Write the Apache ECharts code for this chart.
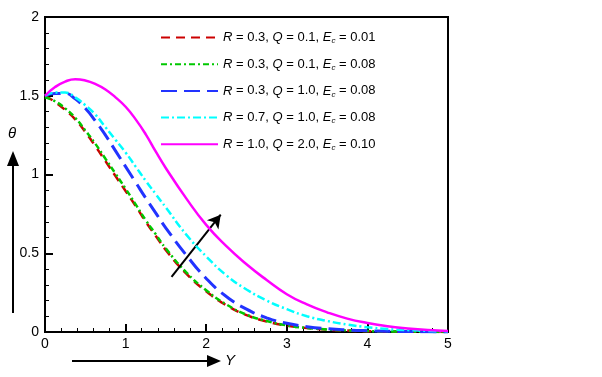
<!DOCTYPE html>
<html>
<head>
<meta charset="utf-8">
<script src="https://cdn.jsdelivr.net/npm/echarts@6/dist/echarts.min.js"></script>
<style>
  html, body { margin: 0; padding: 0; background: #fff; }
  #chart { width: 602px; height: 377px; }
</style>
</head>
<body>
<div id="chart"></div>
<script>
// 横坐标 Y
var yPos = [0, 0.125, 0.25, 0.375, 0.5, 0.625, 0.75, 0.875, 1, 1.125, 1.25, 1.375, 1.5, 1.75, 2, 2.25, 2.5, 2.75, 3, 3.25, 3.5, 3.75, 4, 4.25, 4.5, 4.75, 5];

// 参数
var paramR = [0.3, 0.3, 0.3, 0.7, 1.0];
var paramQ = ['0.1', '0.1', '1.0', '1.0', '2.0'];
var paramEc = ['0.01', '0.08', '0.08', '0.08', '0.10'];

// 温度 θ
var thetaA = [1.50, 1.46, 1.41, 1.35, 1.27, 1.18, 1.085, 0.99, 0.895, 0.80, 0.70, 0.61, 0.52, 0.372, 0.258, 0.17, 0.107, 0.067, 0.04, 0.025, 0.015, 0.009, 0.005, 0.003, 0.002, 0.001, 0];
var thetaB = [1.49, 1.465, 1.42, 1.36, 1.28, 1.195, 1.10, 1.005, 0.91, 0.81, 0.71, 0.62, 0.53, 0.38, 0.265, 0.175, 0.11, 0.07, 0.042, 0.026, 0.016, 0.01, 0.006, 0.004, 0.002, 0.001, 0];
var thetaC = [1.50, 1.515, 1.515, 1.48, 1.42, 1.34, 1.25, 1.15, 1.05, 0.95, 0.85, 0.755, 0.66, 0.49, 0.34, 0.225, 0.145, 0.09, 0.055, 0.034, 0.021, 0.013, 0.008, 0.005, 0.003, 0.001, 0];
var thetaD = [1.50, 1.52, 1.52, 1.49, 1.44, 1.38, 1.30, 1.22, 1.14, 1.05, 0.96, 0.875, 0.79, 0.62, 0.48, 0.36, 0.27, 0.20, 0.145, 0.10, 0.07, 0.047, 0.03, 0.019, 0.012, 0.007, 0.004];
var thetaE = [1.50, 1.555, 1.59, 1.605, 1.597, 1.575, 1.54, 1.49, 1.43, 1.35, 1.255, 1.145, 1.04, 0.85, 0.68, 0.545, 0.43, 0.33, 0.24, 0.175, 0.125, 0.085, 0.057, 0.036, 0.022, 0.012, 0.006];

var colors = ['#cc0000', '#00c800', '#2233ff', '#00ffff', '#ff00ff'];
var dashes = [[9, 6], [6, 3, 2, 3], [16, 7], [8, 3, 2, 3], 'solid'];
var widths = [2.5, 2.5, 3, 2.5, 2.5];
var thetas = [thetaA, thetaB, thetaC, thetaD, thetaE];

function pairs(ys) {
  return yPos.map(function (x, i) { return [x, ys[i]]; });
}

var names = [];
var series = thetas.map(function (ys, k) {
  var name = 'R = ' + paramR[k].toFixed(1) + ', Q = ' + paramQ[k] + ', Ec = ' + paramEc[k];
  names.push(name);
  return {
    name: name,
    type: 'line',
    smooth: true,
    symbol: 'none',
    data: pairs(ys),
    lineStyle: { color: colors[k], width: widths[k], type: dashes[k] },
    itemStyle: { color: colors[k] },
    z: 2 + k
  };
});

// 趋势箭头
series.push({
  type: 'line',
  data: [],
  markLine: {
    silent: true,
    symbol: ['none', 'arrow'],
    symbolSize: [11, 13],
    label: { show: false },
    lineStyle: { color: '#000', width: 2, type: 'solid' },
    data: [[{ coord: [1.57, 0.35] }, { coord: [2.18, 0.745] }]]
  }
});

var chart = echarts.init(document.getElementById('chart'));
chart.setOption({
  animation: false,
  textStyle: { fontFamily: 'Liberation Sans, Arial, sans-serif' },
  grid: { left: 45, right: 154, top: 17, bottom: 45, show: true, borderColor: '#000', borderWidth: 2 },
  legend: {
    data: names,
    orient: 'vertical',
    left: 155,
    top: 26,
    itemWidth: 57,
    itemHeight: 14,
    itemGap: 12.7,
    itemStyle: { opacity: 0 },
    formatter: function (name) {
      var k = names.indexOf(name);
      return '{i|R} = ' + paramR[k].toFixed(1) + ', {i|Q} = ' + paramQ[k] + ', {i|E}{s|c} = ' + paramEc[k];
    },
    textStyle: {
      fontSize: 13,
      color: '#000',
      rich: {
        i: { fontStyle: 'italic', fontSize: 13, color: '#000' },
        s: { fontStyle: 'italic', fontSize: 8, color: '#000', padding: [7, 0, 0, 0] }
      }
    }
  },
  xAxis: {
    type: 'value',
    min: 0,
    max: 5,
    interval: 1,
    axisLine: { lineStyle: { color: '#000', width: 2 } },
    axisTick: { inside: true, length: 8, lineStyle: { color: '#000', width: 2 } },
    minorTick: { show: true, splitNumber: 5, length: 4, lineStyle: { color: '#000', width: 1 } },
    axisLabel: { color: '#000', fontSize: 14, margin: 5 },
    splitLine: { show: false }
  },
  yAxis: {
    type: 'value',
    min: 0,
    max: 2,
    interval: 0.5,
    axisLine: { lineStyle: { color: '#000', width: 2 } },
    axisTick: { inside: true, length: 8, lineStyle: { color: '#000', width: 2 } },
    minorTick: { show: true, splitNumber: 5, length: 4, lineStyle: { color: '#000', width: 1 } },
    axisLabel: { color: '#000', fontSize: 14, margin: 6 },
    splitLine: { show: false }
  },
  graphic: [
    // θ 轴箭头
    { type: 'line', shape: { x1: 13, y1: 313, x2: 13, y2: 164 }, style: { stroke: '#000', lineWidth: 2 } },
    { type: 'polygon', shape: { points: [[7, 166], [19, 166], [13, 151]] }, style: { fill: '#000' } },
    { type: 'text', left: 8, top: 126, style: { text: 'θ', fontSize: 15, fontStyle: 'italic', fill: '#000', fontFamily: 'Liberation Sans, Arial' } },
    // Y 轴箭头
    { type: 'line', shape: { x1: 72, y1: 361, x2: 209, y2: 361 }, style: { stroke: '#000', lineWidth: 2 } },
    { type: 'polygon', shape: { points: [[207, 355], [207, 367], [221, 361]] }, style: { fill: '#000' } },
    { type: 'text', left: 225, top: 353, style: { text: 'Y', fontSize: 15, fontStyle: 'italic', fill: '#000', fontFamily: 'Liberation Sans, Arial' } }
  ],
  series: series
});
</script>
</body>
</html>
